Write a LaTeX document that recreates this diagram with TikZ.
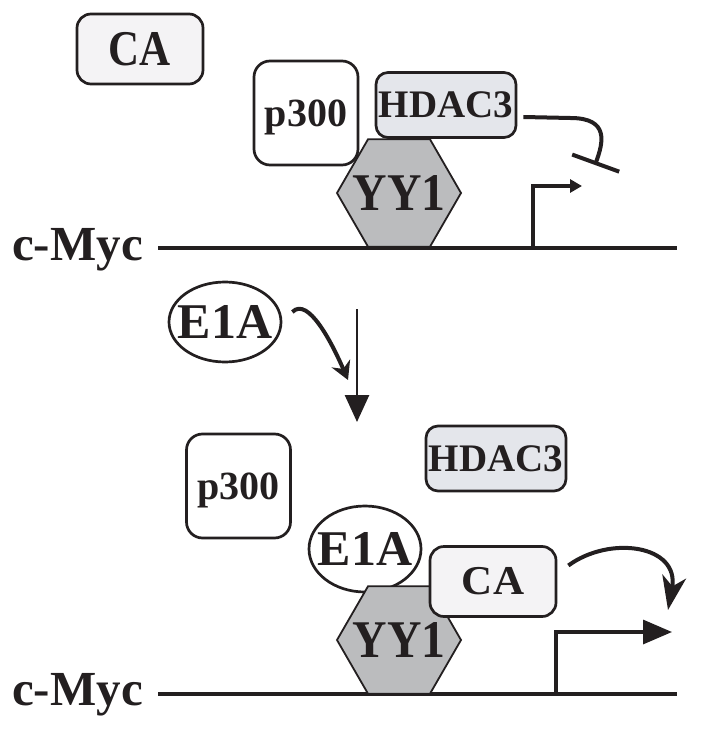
\documentclass[tikz,border=0pt]{standalone}
\usepackage{fontspec}
\setmainfont{Liberation Serif}
\usetikzlibrary{arrows.meta,shapes.geometric}

\definecolor{ink}{HTML}{231F20}
\definecolor{cafill}{HTML}{F4F3F5}
\definecolor{hdacfill}{HTML}{E4E6EB}
\definecolor{yyfill}{HTML}{BBBCBE}

\newcommand{\fsz}[1]{\bfseries\fontsize{#1}{#1}\selectfont}

\tikzset{
  protbox/.style={draw=ink, line width=2.7pt, rounded corners=14pt, inner sep=0pt, text=ink},
  cabox/.style={protbox, fill=cafill, minimum width=126, minimum height=70},
  hdacbox/.style={protbox, fill=hdacfill, minimum width=140, minimum height=65, rounded corners=12pt, font=\fsz{39}},
  pbox/.style={protbox, fill=white, minimum width=104, minimum height=104, rounded corners=16pt, text depth=0pt, font=\fsz{40}},
  hexa/.style={regular polygon, regular polygon sides=6, minimum size=124, inner sep=0pt, draw=ink, line width=1.8pt, fill=yyfill},
  yytxt/.style={inner sep=0pt, text=ink, font=\fsz{53}},
  e1a/.style={ellipse, draw=ink, line width=2.7pt, fill=white, minimum width=112, minimum height=80, inner sep=0pt},
  e1atxt/.style={inner sep=0pt, text=ink, font=\fsz{50}},
  myc/.style={anchor=base west, inner sep=0pt, text=ink, font=\fsz{49}},
  dna/.style={draw=ink, line width=4.5pt},
  prom/.style={draw=ink, line width=3.3pt},
  conn/.style={draw=ink, line width=4pt}
}

\begin{document}
\begin{tikzpicture}[x=1pt,y=-1pt]
\useasboundingbox (0,0) rectangle (701,730);

% upper panel: repressed
\node[cabox, font=\fsz{50}] (ca1) at (140,49) {\scalebox{0.86}[1]{CA}};

\coordinate (dna1a) at (158,248);
\coordinate (dna1b) at (677,248);
\node[myc] (myc1) at (12,260) {c-Myc};
\draw[dna] (dna1a) -- (dna1b);

\node[hexa] (yy1a) at (399,193) {};
\node[yytxt] (yy1atxt) at (yy1a.center) {\scalebox{0.9}[1]{YY1}};
\node[hdacbox] (hdac1) at (446,105) {HDAC3};
\node[pbox] (p3001) at (306,113) {p300};

\coordinate (tss1) at (533,248);
\coordinate (tss1e) at (582,186);
\draw[prom, -{Triangle[length=12pt,width=13pt]}] (tss1) |- (tss1e);

\coordinate (rep1) at (595,165);
\draw[conn, -{Bar[width=50pt]}] ([shift={(6,12)}]hdac1.east) -- ++(47,1)
  .. controls (610,118) and (603,143) .. (rep1);

% E1A step
\node[e1a] (e1a1) at (225,322) {};
\node[e1atxt] (e1a1txt) at (e1a1.center) {E1A};

\coordinate (stepa) at (357,309);
\coordinate (stepb) at (357,422);
\draw[draw=ink, line width=2.7pt, -{Triangle[length=27pt,width=24pt]}] (stepa) -- (stepb);

\coordinate (e1atip) at (348,380);
\draw[conn, -{Stealth[length=18pt,width=20pt,inset=6pt]}] ([shift={(10,-10)}]e1a1.east)
  .. controls (308,296) and (332,343) .. (e1atip);

% lower panel: active
\node[pbox] (p3002) at (238.5,486) {p300};
\node[hdacbox] (hdac2) at (496,458.5) {HDAC3};

\coordinate (dna2a) at (158,694);
\coordinate (dna2b) at (677,694);
\node[myc] (myc2) at (12,705) {c-Myc};
\draw[dna] (dna2a) -- (dna2b);

\node[e1a, minimum height=86] (e1a2) at (365,549) {};
\node[e1atxt] (e1a2txt) at (e1a2.center) {E1A};
\node[hexa] (yy1b) at (399,640) {};
\node[yytxt] (yy1btxt) at (yy1b.center) {\scalebox{0.9}[1]{YY1}};
\node[cabox, font=\fsz{41}] (ca2) at (493,581.5) {\scalebox{1.05}[1]{CA}};

\coordinate (tss2) at (556,694);
\coordinate (tss2e) at (672,632);
\draw[prom, -{Triangle[length=29pt,width=24pt]}] (tss2) |- (tss2e);

\coordinate (act2) at (668,610);
\draw[conn, -{Stealth[length=34pt,width=24pt,inset=10pt]}] ([shift={(11,-16)}]ca2.east)
  .. controls (610,535) and (680,545) .. (act2);
\end{tikzpicture}
\end{document}
